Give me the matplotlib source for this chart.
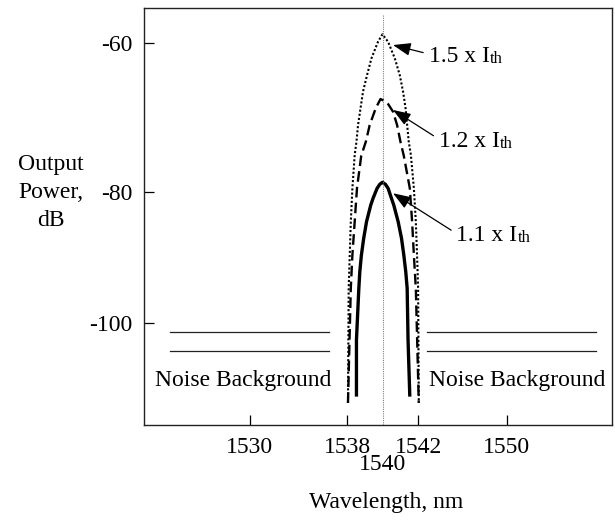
import numpy as np
import matplotlib
matplotlib.use("Agg")
import matplotlib.pyplot as plt

plt.rcParams['font.family'] = ['Liberation Serif', 'DejaVu Serif']
plt.rcParams['font.size'] = 17

# --- data (wavelength in nm, output power in dB) ---
# 1.5 x Ith  (dotted)
dotted_wl = [1538.03, 1538.07, 1538.13, 1538.19, 1538.28, 1538.41, 1538.51, 1538.60, 1538.74,
             1538.88, 1539.11, 1539.36, 1539.73, 1539.98, 1540.30, 1540.68, 1540.96, 1541.15,
             1541.29, 1541.38, 1541.47, 1541.59, 1541.76, 1541.87, 1541.94, 1542.00, 1542.06]
dotted_db = [-112.31, -94.72, -89.62, -84.51, -79.46, -74.99, -73.21, -70.97, -68.72,
             -66.50, -64.26, -62.01, -59.79, -58.79, -59.79, -62.01, -64.26, -66.50,
             -68.72, -70.97, -73.21, -74.99, -79.46, -84.51, -89.62, -94.72, -112.31]

# 1.2 x Ith  (dashed)
dashed_wl = [1538.03, 1538.19, 1538.28, 1538.41, 1538.54, 1538.78, 1539.04, 1539.26, 1539.60,
             1539.87, 1540.24, 1540.58, 1540.81, 1541.00, 1541.19, 1541.53, 1541.66, 1541.76,
             1541.87, 1542.06]
dashed_db = [-112.31, -94.72, -89.62, -84.51, -79.46, -75.10, -73.21, -70.97, -68.72,
             -67.48, -67.92, -69.18, -70.97, -73.21, -75.10, -79.46, -84.51, -89.62,
             -94.72, -112.31]

# 1.1 x Ith  (solid)
solid_wl = [1538.51, 1538.51, 1538.64, 1538.70, 1538.79, 1538.92, 1539.08, 1539.32, 1539.45,
            1539.68, 1539.83, 1539.98, 1540.15, 1540.30, 1540.49, 1540.62, 1540.87, 1541.06,
            1541.19, 1541.30, 1541.38, 1541.43, 1541.53]
solid_db = [-111.35, -102.65, -94.98, -92.18, -89.62, -87.06, -84.51, -81.95, -80.92,
            -79.46, -78.93, -78.66, -78.93, -79.46, -80.92, -81.95, -84.51, -87.06,
            -89.62, -92.18, -94.72, -102.65, -111.35]

noise_levels = [-101.47, -104.3]
noise_left = (1523.47, 1536.53)
noise_right = (1542.76, 1558.05)

center_wl = 1540
major_ticks = [1530, 1538, 1542, 1550]
y_ticks = [-100, -80, -60]
labels = ['1.5 x I', '1.2 x I', '1.1 x I']
tips = [(1540.58, -60.23), (1540.58, -68.95), (1540.58, -80.15)]
label_pos = [(1542.95, -61.77), (1543.85, -73.18), (1545.45, -86.70)]


# the original drawing is schematic: axes are stretched piecewise
def piecewise(xk, yk):
    xk = np.asarray(xk, float)
    yk = np.asarray(yk, float)

    def f(v):
        v = np.asarray(v, float)
        out = np.interp(v, xk, yk)
        lo_slope = (yk[1] - yk[0]) / (xk[1] - xk[0])
        hi_slope = (yk[-1] - yk[-2]) / (xk[-1] - xk[-2])
        out = np.where(v < xk[0], yk[0] + (v - xk[0]) * lo_slope, out)
        out = np.where(v > xk[-1], yk[-1] + (v - xk[-1]) * hi_slope, out)
        return out
    return f


x_span = [250, 347.7, 418.3, 506.7]
y_span = [-322.7, -192.3, -43.3]
x_fwd = piecewise(major_ticks, x_span)
x_inv = piecewise(x_span, major_ticks)
y_fwd = piecewise(y_ticks, y_span)
y_inv = piecewise(y_span, y_ticks)

fig = plt.figure(figsize=(6.15, 5.21), dpi=100)
ax = fig.add_axes([0.234, 0.1843, 0.7606, 0.8003])
ax.set_xscale('function', functions=(x_fwd, x_inv))
ax.set_yscale('function', functions=(y_fwd, y_inv))
ax.set_xlim(1521.35, 1559.5)
ax.set_ylim(-115.7, -55.26)

# spectra
ax.plot(dotted_wl, dotted_db, color='black', lw=1.5, dashes=(1, 1))
ax.plot(dashed_wl, dashed_db, color='black', lw=1.7, dashes=(4.5, 2.2))
ax.plot(solid_wl, solid_db, color='black', lw=2.4, solid_capstyle='butt',
        solid_joinstyle='round')

# centre wavelength marker
ax.plot([center_wl, center_wl], [-115.7, -56.2], color='gray', lw=0.8, dashes=(1, 1))

# noise floor
for lvl in noise_levels:
    ax.plot(noise_left, [lvl, lvl], color='#222222', lw=0.9)
    ax.plot(noise_right, [lvl, lvl], color='#222222', lw=0.9)
ax.text(1522.24, -108.8, 'Noise Background', ha='left', va='center')
ax.text(1542.97, -108.8, 'Noise Background', ha='left', va='center')

# current labels with arrows
for lab, tip, pos in zip(labels, tips, label_pos):
    t = ax.annotate(lab, xy=tip, xytext=pos, ha='left', va='center',
                    arrowprops=dict(arrowstyle='-|>,head_length=0.6,head_width=0.22',
                                    mutation_scale=18, color='black', lw=0.9,
                                    relpos=(0, 0.62), shrinkA=2, shrinkB=0))
    ax.annotate('th', xy=(1, 0), xycoords=t, ha='left', va='bottom', fontsize=12)

# axes styling
ax.set_xticks(major_ticks)
ax.set_xticklabels([str(v) for v in major_ticks])
ax.set_xticks([center_wl], minor=True)
ax.set_xticklabels([str(center_wl)], minor=True)
ax.set_yticks(y_ticks)
ax.set_yticklabels([str(v) for v in y_ticks])
ax.tick_params(axis='both', which='major', direction='in', length=7, width=0.9)
ax.tick_params(axis='x', which='major', pad=9)
ax.tick_params(axis='y', which='major', pad=8)
ax.tick_params(axis='x', which='minor', length=0, pad=21)
ax.tick_params(axis='y', which='minor', left=False)
for sp in ax.spines.values():
    sp.set_linewidth(1.0)
    sp.set_color('#222222')

ax.set_xlabel('Wavelength, nm', va='center')
ax.xaxis.set_label_coords(0.517, -0.187)
ax.set_ylabel('Output\nPower,\ndB', rotation=0, ha='center', va='center', linespacing=1.45)
ax.yaxis.set_label_coords(-0.199, 0.5576)

plt.savefig('out.png', dpi=100)
